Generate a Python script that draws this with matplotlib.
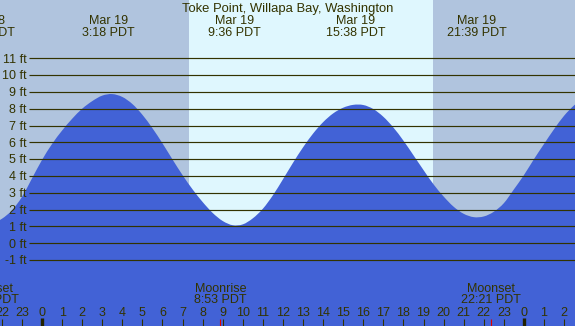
import matplotlib
matplotlib.use("Agg")
import matplotlib.pyplot as plt
from matplotlib.path import Path
from matplotlib.patches import PathPatch
import matplotlib.transforms as mtransforms

# ---------------- data ----------------
title = "Toke Point, Willapa Bay, Washington"

# tide height (ft), every half hour (hours from Mar 19 00:00 PDT)
tide_hours = [-2.5, -2.0, -1.5, -1.0, -0.5, 0.0, 0.5, 1.0, 1.5, 2.0, 2.5, 3.0, 3.5,
              4.0, 4.5, 5.0, 5.5, 6.0, 6.5, 7.0, 7.5, 8.0, 8.5, 9.0, 9.5, 10.0,
              10.5, 11.0, 11.5, 12.0, 12.5, 13.0, 13.5, 14.0, 14.5, 15.0, 15.5,
              16.0, 16.5, 17.0, 17.5, 18.0, 18.5, 19.0, 19.5, 20.0, 20.5, 21.0,
              21.5, 22.0, 22.5, 23.0, 23.5, 24.0, 24.5, 25.0, 25.5, 26.0, 26.5,
              27.0, 27.5]
tide_feet = [1.15, 1.45, 1.95, 2.75, 3.85, 4.95, 5.9, 6.7, 7.4, 8.0, 8.45, 8.78, 8.87,
             8.7, 8.28, 7.64, 6.84, 5.94, 4.98, 4.05, 3.2, 2.45, 1.8, 1.32, 1.07, 1.12,
             1.48, 2.05, 2.85, 3.8, 4.78, 5.7, 6.52, 7.2, 7.72, 8.06, 8.23,
             8.22, 7.98, 7.52, 6.88, 6.1, 5.23, 4.35, 3.5, 2.78, 2.17, 1.75,
             1.55, 1.59, 1.87, 2.38, 3.2, 4.05, 5.0, 5.9, 6.78, 7.58, 8.2,
             8.65, 8.95]

# tide extreme labels (top)
event_hours = [-2.83, 3.30, 9.60, 15.633, 21.65, 27.85]
event_dates = ["Mar 18", "Mar 19", "Mar 19", "Mar 19", "Mar 19", "Mar 20"]
event_times = ["21:10 PDT", "3:18 PDT", "9:36 PDT", "15:38 PDT", "21:39 PDT", "3:51 PDT"]

# moon events (bottom)
moon_hours = [-2.63, 8.883, 22.35]
moon_names = ["Moonset", "Moonrise", "Moonset"]
moon_times = ["21:22 PDT", "8:53 PDT", "22:21 PDT"]

sunrise_hour = 7.30
sunset_hour = 19.47

levels_ft = [-1, 0, 1, 2, 3, 4, 5, 6, 7, 8, 9, 10, 11]
level_labels = [f"{v} ft" for v in levels_ft]

hour_ticks = list(range(-2, 27))
hour_labels = [str(h % 24) for h in hour_ticks]

# ---------------- style ----------------
W, H = 575, 326
NIGHT = "#B0C4DE"
DAY = "#DFF7FE"
WATER = "#4262D6"
INK = "#333300"
FS = 9
plt.rcParams['font.family'] = ['Liberation Sans', 'DejaVu Sans']

fig = plt.figure(figsize=(W / 100, H / 100), dpi=100)
ax = fig.add_axes([0, 0, 1, 1])
ax.axis('off')

px_per_hour = 20.08
x0_px = 42.0
px_per_ft = 16.81
y0_px = 243.2
xmin = (0 - x0_px) / px_per_hour
xmax = (W - x0_px) / px_per_hour
ymax = y0_px / px_per_ft
ymin = (y0_px - H) / px_per_ft
ax.set_xlim(xmin, xmax)
ax.set_ylim(ymin, ymax)

ax.add_patch(plt.Rectangle((xmin, ymin), xmax - xmin, ymax - ymin,
                           facecolor=DAY, edgecolor='none', zorder=0))
ax.axvspan(xmin, sunrise_hour, color=NIGHT, lw=0, zorder=0.5)
ax.axvspan(sunset_hour, xmax, color=NIGHT, lw=0, zorder=0.5)

# smooth tide curve (cubic Bezier through the read points)
n = len(tide_hours)
pts = list(zip(tide_hours, tide_feet))
tang = []
for i in range(n):
    a = pts[max(i - 1, 0)]
    b = pts[min(i + 1, n - 1)]
    k = 0.5 if 0 < i < n - 1 else 1.0
    tang.append(((b[0] - a[0]) * k, (b[1] - a[1]) * k))
verts = [pts[0]]
codes = [Path.MOVETO]
for i in range(n - 1):
    p, q = pts[i], pts[i + 1]
    c1 = (p[0] + tang[i][0] / 3, p[1] + tang[i][1] / 3)
    c2 = (q[0] - tang[i + 1][0] / 3, q[1] - tang[i + 1][1] / 3)
    verts += [c1, c2, q]
    codes += [Path.CURVE4] * 3
verts += [(tide_hours[-1], ymin - 1), (tide_hours[0], ymin - 1), pts[0]]
codes += [Path.LINETO, Path.LINETO, Path.CLOSEPOLY]
ax.add_patch(PathPatch(Path(verts, codes), facecolor=WATER, edgecolor='none', zorder=1))

# level lines and labels
line_start = (29.3 - x0_px) / px_per_hour
ax.hlines(levels_ft, line_start, xmax, colors=INK, lw=0.85, zorder=2)
lab_x = (26.8 - x0_px) / px_per_hour
for v, s in zip(levels_ft, level_labels):
    ax.text(lab_x, v - 4.3 / px_per_ft, s, ha='right', va='baseline',
            fontsize=FS, color=INK, zorder=3)

blend = mtransforms.blended_transform_factory(ax.transData, ax.transAxes)

def fy(ypx):
    return 1 - ypx / H

ax.text(0.5, fy(11.7), title, transform=ax.transAxes, ha='center', va='baseline',
        fontsize=9.4, color=INK, zorder=3)
for t, d, s in zip(event_hours, event_dates, event_times):
    ax.text(t, fy(24), d, transform=blend, ha='center', va='baseline',
            fontsize=FS, color=INK, zorder=3)
    ax.text(t, fy(36), s, transform=blend, ha='center', va='baseline',
            fontsize=FS, color=INK, zorder=3)

for t, nme, s in zip(moon_hours, moon_names, moon_times):
    ax.text(t, fy(291.7), nme, transform=blend, ha='center', va='baseline',
            fontsize=FS, color=INK, zorder=3)
    ax.text(t, fy(303.3), s, transform=blend, ha='center', va='baseline',
            fontsize=FS, color=INK, zorder=3)
    ax.vlines(t, 0, fy(318.5), transform=blend, colors='#E00000', lw=0.8, zorder=3)

for h, s in zip(hour_ticks, hour_labels):
    ax.text(h, fy(316), s, transform=blend, ha='center', va='baseline',
            fontsize=FS, color=INK, zorder=3)
    if h % 24 == 0:
        ax.vlines(h, 0, fy(317.5), transform=blend, colors='#222200', lw=2.4, zorder=3)
    else:
        ax.vlines(h, 0, fy(318.5), transform=blend, colors=INK, lw=0.8, zorder=3)

fig.savefig("out.png", dpi=100)
